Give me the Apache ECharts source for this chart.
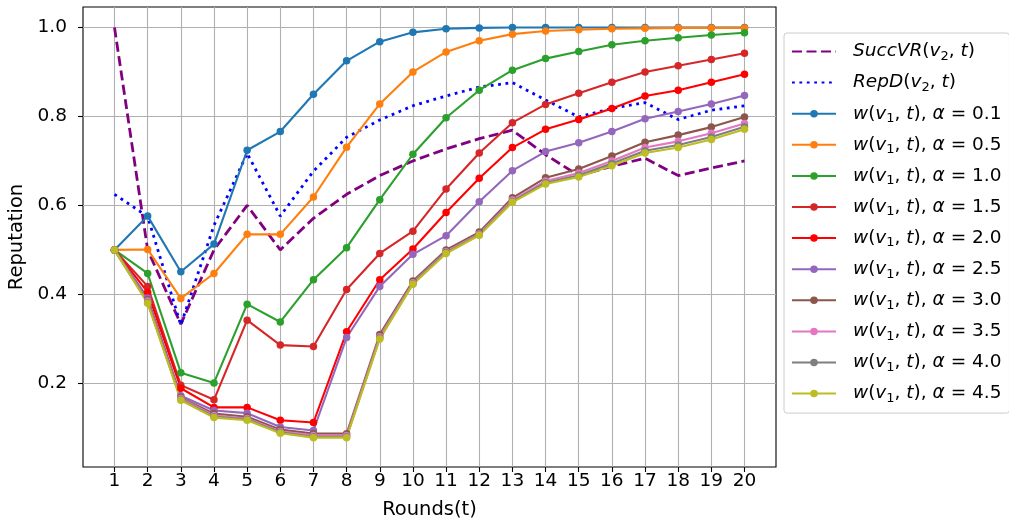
<!DOCTYPE html>
<html>
<head>
<meta charset="utf-8">
<script src="https://cdn.jsdelivr.net/npm/echarts@6/dist/echarts.min.js"></script>
<style>
  html, body { margin: 0; padding: 0; background: #fff; }
  #chart { width: 1009px; height: 524px; }
</style>
</head>
<body>
<div id="chart"></div>
<script>
// Rounds on the x axis
const rounds = [1, 2, 3, 4, 5, 6, 7, 8, 9, 10, 11, 12, 13, 14, 15, 16, 17, 18, 19, 20];
const yTicks = [0.2, 0.4, 0.6, 0.8, 1.0];

// Success ratio of v2 and its reputation
const succVR = [1.0, 0.5, 0.333, 0.5, 0.6, 0.5, 0.571, 0.625, 0.667, 0.7, 0.727, 0.75, 0.769, 0.714, 0.667, 0.688, 0.706, 0.667, 0.684, 0.7];
const repD = [0.625, 0.575, 0.331, 0.555, 0.717, 0.576, 0.677, 0.753, 0.792, 0.824, 0.846, 0.866, 0.876, 0.837, 0.799, 0.818, 0.831, 0.793, 0.814, 0.824];

// Reputation of v1 for each alpha
const alphas = ['0.1', '0.5', '1.0', '1.5', '2.0', '2.5', '3.0', '3.5', '4.0', '4.5'];
const w01 = [0.5, 0.576, 0.451, 0.513, 0.724, 0.766, 0.850, 0.925, 0.968, 0.989, 0.997, 0.999, 1.0, 1.0, 1.0, 1.0, 1.0, 1.0, 1.0, 1.0];
const w05 = [0.5, 0.501, 0.391, 0.447, 0.535, 0.535, 0.619, 0.731, 0.828, 0.900, 0.945, 0.970, 0.985, 0.992, 0.995, 0.997, 0.998, 0.999, 0.999, 0.999];
const w10 = [0.5, 0.447, 0.224, 0.201, 0.378, 0.338, 0.433, 0.505, 0.613, 0.715, 0.797, 0.859, 0.904, 0.930, 0.946, 0.961, 0.970, 0.977, 0.983, 0.988];
const w15 = [0.5, 0.418, 0.196, 0.163, 0.342, 0.286, 0.283, 0.411, 0.492, 0.542, 0.637, 0.718, 0.786, 0.827, 0.852, 0.877, 0.900, 0.914, 0.928, 0.942];
const w20 = [0.5, 0.405, 0.189, 0.146, 0.146, 0.117, 0.112, 0.316, 0.433, 0.502, 0.584, 0.661, 0.730, 0.771, 0.793, 0.818, 0.846, 0.859, 0.877, 0.895];
const w25 = [0.5, 0.392, 0.172, 0.139, 0.133, 0.102, 0.094, 0.303, 0.418, 0.490, 0.532, 0.608, 0.678, 0.721, 0.741, 0.766, 0.795, 0.811, 0.828, 0.847];
const w30 = [0.5, 0.388, 0.168, 0.132, 0.125, 0.096, 0.087, 0.087, 0.310, 0.430, 0.500, 0.540, 0.617, 0.662, 0.682, 0.711, 0.742, 0.758, 0.776, 0.799];
const w35 = [0.5, 0.385, 0.166, 0.128, 0.121, 0.092, 0.083, 0.083, 0.305, 0.426, 0.496, 0.536, 0.612, 0.655, 0.673, 0.700, 0.730, 0.744, 0.762, 0.784];
const w40 = [0.5, 0.382, 0.164, 0.125, 0.119, 0.090, 0.080, 0.080, 0.302, 0.424, 0.494, 0.534, 0.609, 0.651, 0.668, 0.694, 0.723, 0.736, 0.754, 0.777];
const w45 = [0.5, 0.380, 0.162, 0.123, 0.117, 0.088, 0.078, 0.078, 0.300, 0.423, 0.492, 0.533, 0.607, 0.648, 0.664, 0.689, 0.718, 0.730, 0.748, 0.771];

const wSeries = [w01, w05, w10, w15, w20, w25, w30, w35, w40, w45];
const wColors = ['#1f77b4', '#ff7f0e', '#2ca02c', '#d62728', '#ff0000', '#9467bd', '#8c564b', '#e377c2', '#7f7f7f', '#bcbd22'];

const FONT = 'DejaVu Sans';
const pairs = vals => rounds.map((r, i) => [r, vals[i]]);

const series = [
  {
    name: 'succ', type: 'line', data: pairs(succVR), symbol: 'none',
    lineStyle: { color: '#800080', width: 2.8, type: [10, 4.5], cap: 'butt' },
    itemStyle: { color: '#800080' }
  },
  {
    name: 'rep', type: 'line', data: pairs(repD), symbol: 'none',
    lineStyle: { color: '#0000ff', width: 2.8, type: [2.8, 4.6], cap: 'butt' },
    itemStyle: { color: '#0000ff' }
  }
];
alphas.forEach((a, k) => {
  series.push({
    name: 'a' + a, type: 'line', data: pairs(wSeries[k]),
    symbol: 'circle', symbolSize: 7.5, showAllSymbol: true,
    lineStyle: { color: wColors[k], width: 2.1 },
    itemStyle: { color: wColors[k] }
  });
});

// Legend entries: the two plain lines carry no marker
const legendData = series.map(s => (s.symbol === 'none'
  ? { name: s.name, itemStyle: { opacity: 0 } }
  : { name: s.name }));

const legendLabel = name => {
  if (name === 'succ') return '{g|}{i|SuccVR}{n|(}{i|v}{s|2}{n|, }{i|t}{n|)}';
  if (name === 'rep') return '{g|}{i|RepD}{n|(}{i|v}{s|2}{n|, }{i|t}{n|)}';
  const a = name.slice(1);
  return '{g|}{i|w}{n|(}{i|v}{s|1}{n|, }{i|t}{n|), }{i|α}{n| = ' + a + '}';
};

const chart = echarts.init(document.getElementById('chart'), null, { renderer: 'canvas' });
chart.setOption({
  animation: false,
  backgroundColor: '#ffffff',
  grid: {
    left: 83, right: 233, top: 7, bottom: 57,
    containLabel: false, outerBoundsMode: 'none',
    show: true, borderColor: '#000', borderWidth: 1.1, backgroundColor: 'transparent'
  },
  xAxis: {
    type: 'value', min: 0.05, max: 20.95,
    name: 'Rounds(t)', nameLocation: 'middle', nameGap: 33,
    nameTextStyle: { fontFamily: FONT, fontSize: 19.5, color: '#000' },
    axisLine: { show: false },
    axisTick: { show: true, length: 5, lineStyle: { color: '#000', width: 1.1 }, customValues: rounds },
    axisLabel: { customValues: rounds, margin: 5, fontFamily: FONT, fontSize: 18.5, color: '#000' },
    splitLine: { show: true, lineStyle: { color: '#b0b0b0', width: 1.1 } }
  },
  yAxis: {
    type: 'value', min: 0.012, max: 1.046,
    name: 'Reputation', nameLocation: 'middle', nameGap: 55,
    nameTextStyle: { fontFamily: FONT, fontSize: 19.5, color: '#000' },
    axisLine: { show: false },
    axisTick: { show: true, length: 5, lineStyle: { color: '#000', width: 1.1 }, customValues: yTicks },
    axisLabel: { customValues: yTicks, margin: 16, fontFamily: FONT, fontSize: 18.5, color: '#000',
      formatter: v => v.toFixed(1) },
    splitLine: { show: true, lineStyle: { color: '#b0b0b0', width: 1.1 } }
  },
  legend: {
    orient: 'vertical', left: 784, top: 33,
    padding: [7, 8, 8, 7],
    itemGap: 8.1, itemWidth: 44, itemHeight: 9.4,
    backgroundColor: 'rgba(255,255,255,0.8)', borderColor: '#cccccc', borderWidth: 1, borderRadius: 3,
    data: legendData,
    formatter: legendLabel,
    textStyle: {
      fontFamily: FONT, fontSize: 18.5, color: '#000',
      rich: {
        g: { width: 12, height: 23, lineHeight: 23 },
        i: { fontFamily: FONT, fontStyle: 'italic', fontSize: 18.5, color: '#000', lineHeight: 23, verticalAlign: 'middle' },
        n: { fontFamily: FONT, fontSize: 18.5, color: '#000', lineHeight: 23, verticalAlign: 'middle' },
        s: { fontFamily: FONT, fontSize: 13, color: '#000', lineHeight: 23, verticalAlign: 'bottom' }
      }
    }
  },
  series: series
});
</script>
</body>
</html>
